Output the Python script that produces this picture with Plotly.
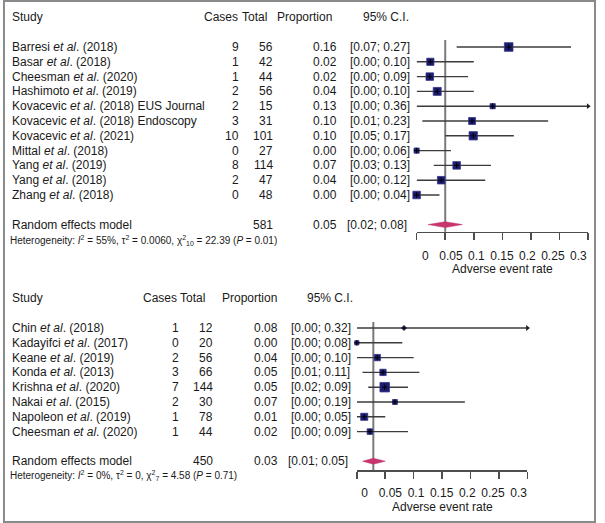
import plotly.graph_objects as go

# ---------------- data ----------------
TOP_AUTHOR = ["Barresi", "Basar", "Cheesman", "Hashimoto", "Kovacevic", "Kovacevic",
              "Kovacevic", "Mittal", "Yang", "Yang", "Zhang"]
TOP_YEAR = [2018, 2018, 2020, 2019, 2018, 2018, 2021, 2018, 2019, 2018, 2018]
TOP_NOTE = ["", "", "", "", " EUS Journal", " Endoscopy", "", "", "", "", ""]
TOP_CASES = [9, 1, 1, 2, 2, 3, 10, 0, 8, 2, 0]
TOP_TOTAL = [56, 42, 44, 56, 15, 31, 101, 27, 114, 47, 48]
TOP_PROP = [0.161, 0.024, 0.023, 0.036, 0.133, 0.097, 0.099, 0.0, 0.070, 0.043, 0.0]
TOP_LO = [0.07, 0.00, 0.00, 0.00, 0.00, 0.01, 0.05, 0.00, 0.03, 0.00, 0.00]
TOP_HI = [0.27, 0.10, 0.09, 0.10, 0.36, 0.23, 0.17, 0.06, 0.13, 0.12, 0.04]
TOP_WEIGHT = [12.6, 8.9, 9.7, 10.8, 4.6, 8.2, 11.7, 4.6, 9.7, 9.7, 9.7]
TOP_POOLED = [0.050, 0.02, 0.08]
TOP_N = 581
TOP_HET = "Heterogeneity: <i>I</i><sup>2</sup> = 55%, τ<sup>2</sup> = 0.0060, χ<sup>2</sup><sub>10</sub> = 22.39 (<i>P</i> = 0.01)"

BOT_AUTHOR = ["Chin", "Kadayifci", "Keane", "Konda", "Krishna", "Nakai", "Napoleon", "Cheesman"]
BOT_YEAR = [2018, 2017, 2019, 2013, 2020, 2015, 2019, 2020]
BOT_NOTE = ["", "", "", "", "", "", "", ""]
BOT_CASES = [1, 0, 2, 3, 7, 2, 1, 1]
BOT_TOTAL = [12, 20, 56, 66, 144, 30, 78, 44]
BOT_PROP = [0.083, 0.0, 0.036, 0.046, 0.049, 0.067, 0.013, 0.023]
BOT_LO = [0.00, 0.00, 0.00, 0.01, 0.02, 0.00, 0.00, 0.00]
BOT_HI = [0.32, 0.08, 0.10, 0.11, 0.09, 0.19, 0.05, 0.09]
BOT_WEIGHT = [2.6, 5.9, 13.3, 13.3, 29.9, 8.1, 16.6, 10.3]
BOT_POOLED = [0.029, 0.01, 0.05]
BOT_N = 450
BOT_HET = "Heterogeneity: <i>I</i><sup>2</sup> = 0%, τ<sup>2</sup> = 0, χ<sup>2</sup><sub>7</sub> = 4.58 (<i>P</i> = 0.71)"

TICK_VALS = [0, 0.05, 0.1, 0.15, 0.2, 0.25, 0.3]
TICK_TEXT = ["0", "0.05", "0.1", "0.15", "0.2", "0.25", "0.3"]
XMAX = 0.3

# ---------------- layout geometry (pixels) ----------------
W, H = 605, 523
FONT = "Liberation Sans, Arial, sans-serif"
TXT = "#1a1a1a"
FS = 12

PANELS = [
    dict(author=TOP_AUTHOR, year=TOP_YEAR, note=TOP_NOTE, cases=TOP_CASES, total=TOP_TOTAL,
         prop=TOP_PROP, lo=TOP_LO, hi=TOP_HI, weight=TOP_WEIGHT, pooled=TOP_POOLED,
         n=TOP_N, het=TOP_HET,
         xa="x", ya="y", xl="x3", x0=422, x1=597, lab0=431, lab1=587,
         row0=47, step=14.8, rmin=-3, rmax=14, axis_px=231.7, label_px=247, title_px=269,
         het_px=240, ref_top_px=40, box_max=8.6,
         cols=dict(cases=243, total=277, prop=343, ci=352),
         hdr=dict(cases=242, total=271, prop=278, ci=365, prop_anchor="left")),
    dict(author=BOT_AUTHOR, year=BOT_YEAR, note=BOT_NOTE, cases=BOT_CASES, total=BOT_TOTAL,
         prop=BOT_PROP, lo=BOT_LO, hi=BOT_HI, weight=BOT_WEIGHT, pooled=BOT_POOLED,
         n=BOT_N, het=BOT_HET,
         xa="x2", ya="y2", xl="x4", x0=361, x1=535, lab0=369, lab1=526,
         row0=328, step=14.8, rmin=-3, rmax=10.8, axis_px=470, label_px=484, title_px=507,
         het_px=475, ref_top_px=322, box_max=9.5,
         cols=dict(cases=182, total=216, prop=283, ci=292),
         hdr=dict(cases=180, total=208, prop=282, ci=308, prop_anchor="right")),
]

fig = go.Figure()
annotations = []
layout_axes = {}


def px_x(p):
    return p / W


def px_y(p):
    return 1 - p / H


def ann(text, x_px, yref, y, anchor="left", size=FS, yanchor="middle"):
    annotations.append(dict(text=text, x=px_x(x_px), xref="paper", y=y, yref=yref,
                            xanchor=anchor, yanchor=yanchor, showarrow=False,
                            font=dict(family=FONT, size=size, color=TXT)))


for i, P in enumerate(PANELS):
    xa, ya, xl = P["xa"], P["ya"], P["xl"]
    yref = ya
    row_of = lambda px, P=P: (px - P["row0"]) / P["step"]
    n_st = len(P["author"])
    sum_row = n_st + 1
    axis_row = row_of(P["axis_px"])
    est, plo, phi = P["pooled"]

    # axes
    xkey = "xaxis" if xa == "x" else "xaxis" + xa[1:]
    ykey = "yaxis" if ya == "y" else "yaxis" + ya[1:]
    lkey = "xaxis" + xl[1:]
    dom_top = P["row0"] + P["step"] * P["rmin"]
    dom_bot = P["row0"] + P["step"] * P["rmax"]
    layout_axes[ykey] = dict(domain=[px_y(dom_bot), px_y(dom_top)],
                             range=[P["rmax"], P["rmin"]], visible=False,
                             anchor=xa, fixedrange=True)
    layout_axes[xkey] = dict(domain=[px_x(P["x0"]), px_x(P["x1"])], range=[0, XMAX],
                             anchor="free", position=px_y(P["axis_px"]),
                             showline=True, linecolor="#4d4d4d", linewidth=1.6,
                             ticks="outside", ticklen=7, tickwidth=1.6, tickcolor="#4d4d4d",
                             tickvals=TICK_VALS, showticklabels=False,
                             showgrid=False, zeroline=False)
    layout_axes[lkey] = dict(domain=[px_x(P["lab0"]), px_x(P["lab1"])], range=[0, XMAX],
                             anchor="free", position=px_y(P["label_px"]),
                             showline=False, ticks="", tickvals=TICK_VALS, ticktext=TICK_TEXT,
                             tickfont=dict(family=FONT, size=FS, color=TXT),
                             showgrid=False, zeroline=False)
    fig.add_trace(go.Scatter(x=[0], y=[0], xaxis=xl, yaxis=ya, mode="markers",
                             marker=dict(opacity=0), hoverinfo="skip", showlegend=False))

    # reference line at pooled estimate
    fig.add_trace(go.Scatter(x=[est, est], y=[row_of(P["ref_top_px"]), axis_row],
                             xaxis=xa, yaxis=ya, mode="lines",
                             line=dict(color="#7a7a7a", width=2), showlegend=False,
                             hoverinfo="skip", cliponaxis=False))

    # CI lines
    lx, ly, ax_, ay_ = [], [], [], []
    for r in range(n_st):
        hi = min(P["hi"][r], XMAX)
        lx += [P["lo"][r], hi, None]
        ly += [r, r, None]
        if P["hi"][r] > XMAX:
            ax_.append(XMAX)
            ay_.append(r)
    fig.add_trace(go.Scatter(x=lx, y=ly, xaxis=xa, yaxis=ya, mode="lines",
                             line=dict(color="#3c3c3c", width=1.4), showlegend=False,
                             hoverinfo="skip", cliponaxis=False))
    if ax_:
        fig.add_trace(go.Scatter(x=ax_, y=ay_, xaxis=xa, yaxis=ya, mode="markers",
                                 marker=dict(symbol="triangle-right", size=5, color="#222",
                                             opacity=1),
                                 showlegend=False, hoverinfo="skip", cliponaxis=False))

    # weighted squares
    wmax = max(P["weight"])
    sizes = [P["box_max"] * (w / wmax) ** 0.5 for w in P["weight"]]
    fig.add_trace(go.Scatter(x=P["prop"], y=list(range(n_st)), xaxis=xa, yaxis=ya,
                             mode="markers",
                             marker=dict(symbol="square", size=sizes, color="#1c1c6e",
                                         opacity=1,
                                         line=dict(color="#34348a", width=0.8)),
                             showlegend=False, hoverinfo="skip", cliponaxis=False))
    fig.add_trace(go.Scatter(x=P["prop"], y=list(range(n_st)), xaxis=xa, yaxis=ya,
                             mode="markers",
                             marker=dict(symbol="cross-thin", size=4, opacity=1,
                                         line=dict(color="#000", width=1)),
                             showlegend=False, hoverinfo="skip", cliponaxis=False))

    # pooled diamond
    fig.add_trace(go.Scatter(x=[plo, est, phi, est, plo],
                             y=[sum_row, sum_row - 0.2, sum_row, sum_row + 0.2, sum_row],
                             xaxis=xa, yaxis=ya, mode="lines", fill="toself",
                             fillcolor="#c7356f", line=dict(color="#c7356f", width=0.5),
                             showlegend=False, hoverinfo="skip", cliponaxis=False))

    # headers
    h = P["hdr"]
    ann("Study", 7, yref, -2)
    ann("Cases", h["cases"], yref, -2, "right")
    ann("Total", h["total"], yref, -2, "right")
    ann("Proportion", h["prop"], yref, -2, h["prop_anchor"])
    ann("95% C.I.", h["ci"], yref, -2, "left")

    # study rows
    c = P["cols"]
    for r in range(n_st):
        label = f"{P['author'][r]} <i>et al</i>. ({P['year'][r]}){P['note'][r]}"
        ann(label, 7, yref, r)
        ann(str(P["cases"][r]), c["cases"], yref, r, "right")
        ann(str(P["total"][r]), c["total"], yref, r, "right")
        ann(f"{P['prop'][r]:.2f}", c["prop"], yref, r, "right")
        ann(f"[{P['lo'][r]:.2f}; {P['hi'][r]:.2f}]", c["ci"], yref, r, "left")

    # summary row
    ann("Random effects model", 7, yref, sum_row)
    ann(str(P["n"]), c["total"], yref, sum_row, "right")
    ann(f"{est:.2f}", c["prop"], yref, sum_row, "right")
    ann(f"[{plo:.2f}; {phi:.2f}]", c["ci"] - 3, yref, sum_row, "left")
    ann(P["het"], 5, yref, row_of(P["het_px"]), size=10)

    # axis title
    annotations.append(dict(text="Adverse event rate", x=0.5, xref=xa + " domain",
                            y=px_y(P["title_px"]), yref="paper", xanchor="center",
                            yanchor="middle", showarrow=False,
                            font=dict(family=FONT, size=FS, color=TXT)))

fig.update_layout(
    width=W, height=H, margin=dict(l=0, r=0, t=0, b=0),
    paper_bgcolor="white", plot_bgcolor="rgba(0,0,0,0)",
    showlegend=False, annotations=annotations,
    shapes=[dict(type="rect", xref="paper", yref="paper",
                 x0=px_x(1), x1=px_x(604), y0=px_y(522), y1=px_y(1),
                 line=dict(color="#8a8a8a", width=2))],
    **layout_axes,
)

fig.write_html("out.html", config={"displayModeBar": False, "staticPlot": True},
               post_script="document.body.style.margin='0px';document.body.style.overflow='hidden';")
